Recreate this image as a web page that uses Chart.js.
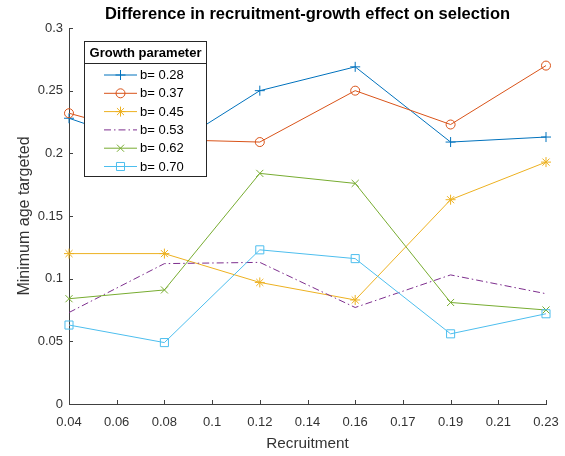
<!DOCTYPE html>
<html>
<head>
<meta charset="utf-8">
<script src="https://cdn.jsdelivr.net/npm/chart.js@4/dist/chart.umd.min.js"></script>
<style>
  html, body { margin: 0; padding: 0; background: #ffffff; }
  #wrap { width: 565px; height: 456px; position: relative; }
</style>
</head>
<body>
<div id="wrap"><canvas id="chart" width="565" height="456"></canvas></div>
<script>
// Tick labels along the recruitment axis (evenly spaced categories)
const recruitmentTicks = ['0.04', '0.06', '0.08', '0.1', '0.12', '0.14', '0.16', '0.17', '0.19', '0.21', '0.23'];
// Recruitment levels that were simulated
const recruitmentLevels = ['0.04', '0.08', '0.12', '0.16', '0.19', '0.23'];

// Minimum age targeted, one array per growth parameter b
const growthLabels = ['b= 0.28', 'b= 0.37', 'b= 0.45', 'b= 0.53', 'b= 0.62', 'b= 0.70'];
const minAgeB028 = [0.228, 0.202, 0.250, 0.269, 0.209, 0.213];
const minAgeB037 = [0.232, 0.211, 0.209, 0.250, 0.223, 0.270];
const minAgeB045 = [0.120, 0.120, 0.097, 0.083, 0.163, 0.193];
const minAgeB053 = [0.073, 0.112, 0.113, 0.077, 0.103, 0.088];
const minAgeB062 = [0.084, 0.091, 0.184, 0.176, 0.081, 0.075];
const minAgeB070 = [0.063, 0.049, 0.123, 0.116, 0.056, 0.072];

const seriesValues = [minAgeB028, minAgeB037, minAgeB045, minAgeB053, minAgeB062, minAgeB070];
const seriesColors = ['#0072BD', '#D95319', '#EDB120', '#7E2F8E', '#77AC30', '#4DBEEE'];
const seriesMarkers = ['cross', 'circle', 'star', false, 'crossRot', 'rect'];
const seriesRadius = [5, 4.5, 5, 0, 5, 5.7];
const seriesDash = [[], [], [], [7, 3, 1.5, 3], [], []];

const FONT = '"Liberation Sans", Arial, Helvetica, sans-serif';
const AXIS_COLOR = '#404040';
const TEXT_COLOR = '#333333';

const datasets = seriesValues.map((vals, i) => ({
  label: growthLabels[i],
  data: vals.map((v, k) => ({ x: recruitmentLevels[k], y: v })),
  borderColor: seriesColors[i],
  backgroundColor: 'rgba(0,0,0,0)',
  borderWidth: 1,
  borderDash: seriesDash[i],
  pointStyle: seriesMarkers[i],
  pointRadius: seriesRadius[i],
  pointHoverRadius: seriesRadius[i],
  pointBorderColor: seriesColors[i],
  pointBackgroundColor: 'rgba(0,0,0,0)',
  pointBorderWidth: 1,
  tension: 0,
  fill: false,
  order: seriesValues.length - i
}));

// Inward tick marks, chart title and boxed legend
const decorations = {
  id: 'decorations',
  afterDraw(chart) {
    const { ctx, chartArea, scales } = chart;
    const xs = scales.x, ys = scales.y;
    ctx.save();
    ctx.strokeStyle = AXIS_COLOR;
    ctx.lineWidth = 1;
    ctx.beginPath();
    xs.ticks.forEach((t, i) => {
      const px = Math.round(xs.getPixelForTick(i)) + 0.5;
      ctx.moveTo(px, chartArea.bottom);
      ctx.lineTo(px, chartArea.bottom - 4);
    });
    ys.ticks.forEach((t, i) => {
      const py = Math.round(ys.getPixelForTick(i)) + 0.5;
      ctx.moveTo(chartArea.left, py);
      ctx.lineTo(chartArea.left + 4, py);
    });
    ctx.stroke();

    // title
    ctx.fillStyle = '#000000';
    ctx.font = 'bold 16.5px ' + FONT;
    ctx.textAlign = 'center';
    ctx.textBaseline = 'middle';
    ctx.fillText('Difference in recruitment-growth effect on selection', (chartArea.left + chartArea.right) / 2, 14);

    // legend box
    const bx = 84.5, by = 41.5, bw = 122, bh = 135;
    ctx.fillStyle = '#ffffff';
    ctx.fillRect(bx, by, bw, bh);
    ctx.strokeStyle = '#262626';
    ctx.strokeRect(bx, by, bw, bh);
    ctx.beginPath();
    ctx.moveTo(bx, 63.5);
    ctx.lineTo(bx + bw, 63.5);
    ctx.stroke();
    ctx.fillStyle = '#000000';
    ctx.font = 'bold 13px ' + FONT;
    ctx.fillText('Growth parameter', bx + bw / 2, 53);

    ctx.font = '13px ' + FONT;
    ctx.textAlign = 'left';
    chart.data.datasets.forEach((ds, i) => {
      const ry = 75 + i * 18.3;
      ctx.save();
      ctx.strokeStyle = ds.borderColor;
      ctx.lineWidth = 1;
      ctx.setLineDash(ds.borderDash || []);
      ctx.beginPath();
      ctx.moveTo(104, ry);
      ctx.lineTo(137, ry);
      ctx.stroke();
      ctx.setLineDash([]);
      if (ds.pointStyle && Chart.helpers && Chart.helpers.drawPoint) {
        ctx.strokeStyle = ds.pointBorderColor;
        ctx.fillStyle = 'rgba(0,0,0,0)';
        Chart.helpers.drawPoint(ctx, { pointStyle: ds.pointStyle, radius: ds.pointRadius, borderWidth: 1, rotation: 0 }, 120.5, ry);
      }
      ctx.restore();
      ctx.fillStyle = '#000000';
      ctx.textBaseline = 'middle';
      ctx.fillText(ds.label, 140, ry + 0.5);
    });
    ctx.restore();
  }
};

new Chart(document.getElementById('chart'), {
  type: 'line',
  data: { labels: recruitmentTicks, datasets: datasets },
  plugins: [decorations],
  options: {
    responsive: false,
    animation: false,
    layout: { padding: { top: 28, right: 19, bottom: 0, left: 0 } },
    plugins: {
      legend: { display: false },
      title: { display: false },
      tooltip: { enabled: false }
    },
    scales: {
      x: {
        type: 'category',
        offset: false,
        grid: { display: true, drawOnChartArea: false, drawTicks: false },
        border: { display: true, color: AXIS_COLOR, width: 1 },
        ticks: {
          color: TEXT_COLOR, font: { family: FONT, size: 13 }, padding: 11,
          maxRotation: 0, minRotation: 0, autoSkip: false
        },
        title: {
          display: true, text: 'Recruitment', color: TEXT_COLOR,
          font: { family: FONT, size: 15.3 }, padding: { top: 0, bottom: 3 }
        },
        afterFit(scale) {
          scale.height = 52;
          scale.paddingLeft = 0;
          scale.paddingRight = 0;
        }
      },
      y: {
        min: 0, max: 0.3,
        grid: { display: true, drawOnChartArea: false, drawTicks: false },
        border: { display: true, color: AXIS_COLOR, width: 1 },
        ticks: {
          stepSize: 0.05, color: TEXT_COLOR, font: { family: FONT, size: 13 }, padding: 6,
          callback: (v) => String(Math.round(v * 100) / 100)
        },
        title: {
          display: true, text: 'Minimum age targeted', color: TEXT_COLOR,
          font: { family: FONT, size: 16 }, padding: { top: 15, bottom: 0 }
        },
        afterFit(scale) {
          scale.width = 69;
          scale.paddingTop = 0;
          scale.paddingBottom = 0;
        }
      }
    }
  }
});
</script>
</body>
</html>
